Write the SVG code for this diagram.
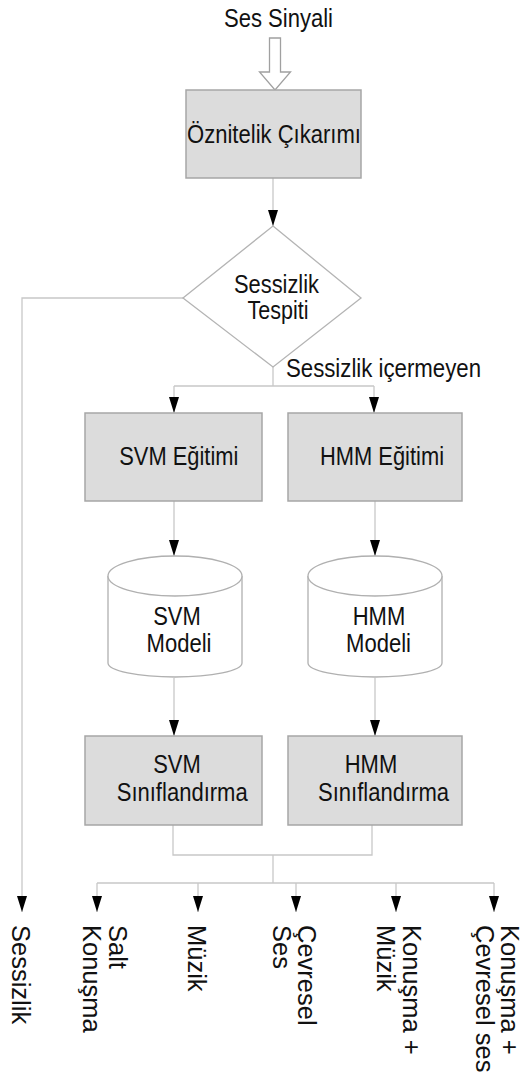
<svg xmlns="http://www.w3.org/2000/svg" width="527" height="1080" viewBox="0 0 527 1080">
<style>
.box{fill:#dcdcdc;stroke:#a6a6a6;stroke-width:1.5}
.cyl{fill:#ffffff;stroke:#b0b0b0;stroke-width:1.3}
.dia{fill:#ffffff;stroke:#b4b4b4;stroke-width:1.3}
.ln{fill:none;stroke:#c8c8c8;stroke-width:1.3}
.t{font-family:"Liberation Sans",Arial,sans-serif;font-size:25px;fill:#111}
.r{font-family:"Liberation Sans",Arial,sans-serif;font-size:25.5px;fill:#111}
</style>
<defs>
<marker id="ah" viewBox="0 0 16 10" refX="16" refY="5" markerWidth="16" markerHeight="10" markerUnits="userSpaceOnUse" orient="auto">
<path d="M0,0 L16,5 L0,10 z" fill="#000"/>
</marker>
</defs>
<text class="t" x="224" y="27" textLength="109" lengthAdjust="spacingAndGlyphs">Ses Sinyali</text>
<g id="connectors">
<polygon points="269.5,38 280.5,38 280.5,72 290.5,72 275,90 259.5,72 269.5,72" fill="#fff" stroke="#a0a0a0" stroke-width="1.3"/>
<path class="ln" d="M273,178 V226" marker-end="url(#ah)"/>
<path class="ln" d="M183,298 H22 V912" marker-end="url(#ah)"/>
<path class="ln" d="M273,367 V386 M174,386 H374"/>
<path class="ln" d="M174,386 V413" marker-end="url(#ah)"/>
<path class="ln" d="M374,386 V413" marker-end="url(#ah)"/>
<path class="ln" d="M174,501 V556" marker-end="url(#ah)"/>
<path class="ln" d="M375,501 V556" marker-end="url(#ah)"/>
<path class="ln" d="M174,678 V736" marker-end="url(#ah)"/>
<path class="ln" d="M375,678 V736" marker-end="url(#ah)"/>
<path class="ln" d="M173,825 V855 H372 V825 M273,855 V883 M97,883 H494"/>
<path class="ln" d="M97,883 V912" marker-end="url(#ah)"/>
<path class="ln" d="M198,883 V912" marker-end="url(#ah)"/>
<path class="ln" d="M296,883 V912" marker-end="url(#ah)"/>
<path class="ln" d="M396,883 V912" marker-end="url(#ah)"/>
<path class="ln" d="M494,883 V912" marker-end="url(#ah)"/>
</g>
<g id="oznitelik">
<rect class="box" x="186" y="90" width="175" height="88"/>
<text class="t" x="187" y="143" textLength="174" lengthAdjust="spacingAndGlyphs">Öznitelik Çıkarımı</text>
</g>
<g id="sessizlik-tespiti">
<polygon class="dia" points="273,226 361,298 273,367 183,298"/>
<text class="t" x="234" y="292.5" textLength="85" lengthAdjust="spacingAndGlyphs">Sessizlik</text>
<text class="t" x="247.5" y="319" textLength="61" lengthAdjust="spacingAndGlyphs">Tespiti</text>
</g>
<text class="t" x="286" y="377" textLength="195" lengthAdjust="spacingAndGlyphs">Sessizlik içermeyen</text>
<g id="svm-egitimi">
<rect class="box" x="85" y="413" width="177" height="88"/>
<text class="t" x="119.3" y="465" textLength="119" lengthAdjust="spacingAndGlyphs">SVM Eğitimi</text>
</g>
<g id="hmm-egitimi">
<rect class="box" x="288" y="413" width="174" height="88"/>
<text class="t" x="320" y="465" textLength="124" lengthAdjust="spacingAndGlyphs">HMM Eğitimi</text>
</g>
<g id="svm-modeli">
<path class="cyl" d="M108,576 A67,20 0 0 1 242,576 L242,663 A67,14 0 0 1 108,663 Z"/>
<path class="cyl" d="M108,576 A67,20 0 0 0 242,576" fill="none"/>
<text class="t" x="177" y="625" text-anchor="middle" textLength="47.5" lengthAdjust="spacingAndGlyphs">SVM</text>
<text class="t" x="179" y="651.7" text-anchor="middle" textLength="65" lengthAdjust="spacingAndGlyphs">Modeli</text>
</g>
<g id="hmm-modeli">
<path class="cyl" d="M308,576 A67,20 0 0 1 442,576 L442,663 A67,14 0 0 1 308,663 Z"/>
<path class="cyl" d="M308,576 A67,20 0 0 0 442,576" fill="none"/>
<text class="t" x="379" y="625" text-anchor="middle" textLength="52.5" lengthAdjust="spacingAndGlyphs">HMM</text>
<text class="t" x="378.5" y="651.7" text-anchor="middle" textLength="65" lengthAdjust="spacingAndGlyphs">Modeli</text>
</g>
<g id="svm-siniflandirma">
<rect class="box" x="85" y="736" width="177" height="89"/>
<text class="t" x="177" y="773" text-anchor="middle" textLength="47.5" lengthAdjust="spacingAndGlyphs">SVM</text>
<text class="t" x="116.7" y="801" textLength="131" lengthAdjust="spacingAndGlyphs">Sınıflandırma</text>
</g>
<g id="hmm-siniflandirma">
<rect class="box" x="288" y="736" width="174" height="89"/>
<text class="t" x="371" y="773" text-anchor="middle" textLength="52.5" lengthAdjust="spacingAndGlyphs">HMM</text>
<text class="t" x="318" y="801" textLength="131" lengthAdjust="spacingAndGlyphs">Sınıflandırma</text>
</g>
<g id="out-sessizlik"><text class="r" transform="translate(12,925) rotate(90)">Sessizlik</text></g>
<g id="out-salt-konusma">
<text class="r" transform="translate(108.5,925) rotate(90)">Salt</text>
<text class="r" transform="translate(83,925) rotate(90)">Konuşma</text>
</g>
<g id="out-muzik"><text class="r" transform="translate(188,925) rotate(90)">Müzik</text></g>
<g id="out-cevresel-ses">
<text class="r" transform="translate(297.5,925) rotate(90)">Çevresel</text>
<text class="r" transform="translate(272.5,925) rotate(90)">Ses</text>
</g>
<g id="out-konusma-muzik">
<text class="r" transform="translate(402.5,925) rotate(90)">Konuşma +</text>
<text class="r" transform="translate(377,925) rotate(90)">Müzik</text>
</g>
<g id="out-konusma-cevresel">
<text class="r" transform="translate(501,925) rotate(90)">Konuşma +</text>
<text class="r" transform="translate(475.5,925) rotate(90)">Çevresel ses</text>
</g>
</svg>
